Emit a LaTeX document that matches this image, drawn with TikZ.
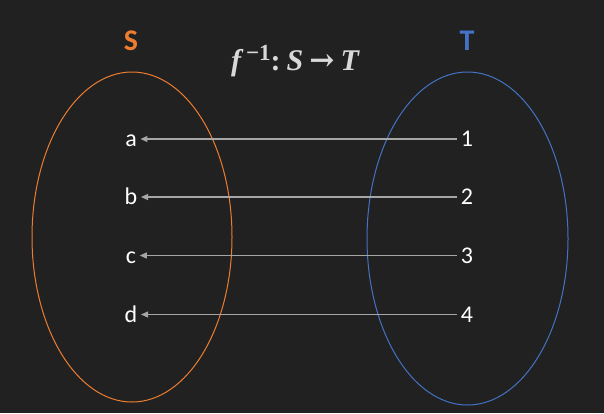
\documentclass[tikz,border=0pt]{standalone}
\usepackage{fontspec}
\newfontfamily\labelfont{Carlito}
\newfontfamily\titlefont{Liberation Serif}
\newfontfamily\arrowfont{DejaVu Serif}
\usetikzlibrary{arrows.meta}
\definecolor{bgdark}{HTML}{212121}
\definecolor{setorange}{HTML}{ED7D31}
\definecolor{setblue}{HTML}{4472C4}
\definecolor{arrowgray}{HTML}{A6A6A6}
\definecolor{titlegray}{HTML}{D9D9D9}
\newcommand{\supinv}{\raisebox{10pt}{\fontsize{23}{23}\selectfont\upshape −1}}
\begin{document}
\begin{tikzpicture}[x=1pt, y=-1pt,
	elem/.style={font=\labelfont\fontsize{24}{24}\selectfont, text=white, inner sep=3.5pt, text height=15pt, text depth=0pt},
	setname/.style={font=\labelfont\bfseries\fontsize{30}{30}\selectfont},
	maps/.style={draw=arrowgray, line width=1.2pt, -{Triangle[length=7pt,width=6pt]}}]
\fill[bgdark] (0,0) rectangle (604,413);
% the two sets
\draw[setorange, line width=1pt] (132,237) ellipse [x radius=100pt, y radius=165pt];
\draw[setblue, line width=1pt] (467.5,238.5) ellipse [x radius=100.5pt, y radius=166.5pt];
\node[setname, text=setorange] (S) at (131,41) {S};
\node[setname, text=setblue] (T) at (467,41) {T};
\node[text=titlegray, anchor=base, inner sep=0pt, font=\titlefont\bfseries\fontsize{30}{30}\selectfont] (title) at (295,70)
	{\itshape f\,\supinv\upshape:\hspace{6pt}\itshape S\hspace{6pt}{\arrowfont\upshape\fontsize{30}{30}\selectfont →}\hspace{6pt}T};
% elements and the inverse map
\foreach \s/\t/\y in {a/1/139, b/2/197, c/3/255.5, d/4/314.5} {
	\node[elem] (s\s) at (131,\y) {\s};
	\node[elem] (t\t) at (467,\y) {\t};
	\draw[maps] (t\t) -- (s\s);
}
\end{tikzpicture}
\end{document}
